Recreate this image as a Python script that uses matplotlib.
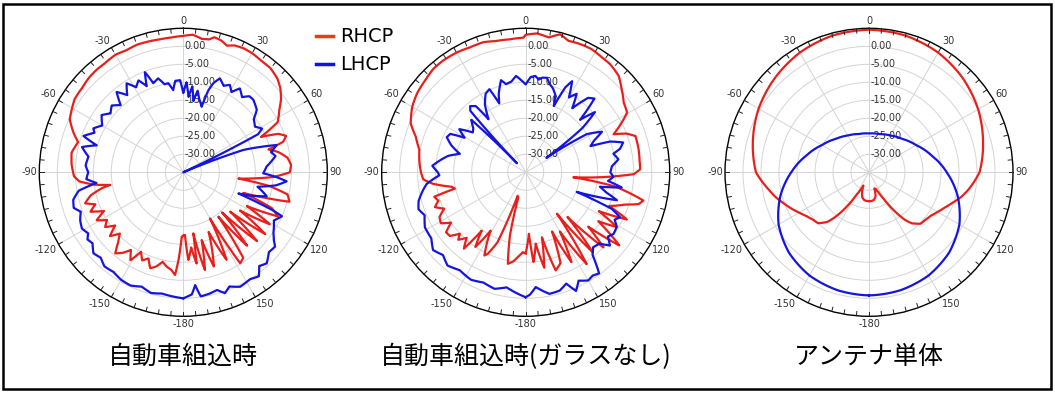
import numpy as np
import matplotlib
matplotlib.use('Agg')
import matplotlib.pyplot as plt
from matplotlib.lines import Line2D
from matplotlib.patches import Rectangle

plt.rcParams['font.family'] = ['DejaVu Sans']

W, H = 1055, 394

titles = ['自動車組込時', '自動車組込時(ガラスなし)', 'アンテナ単体']
series_names = ['RHCP', 'LHCP']
ring_values = [0, -5, -10, -15, -20, -25, -30]
theta_ticks = [0, 30, 60, 90, 120, 150, 180, 210, 240, 270, 300, 330]
theta_labels = ['0', '30', '60', '90', '120', '150', '-180', '-150', '-120', '-90', '-60', '-30']

# panel 1: 自動車組込時
p1_rhcp_deg = [-180, -178.6, -177, -175.4, -173, -170, -167, -164, -161, -158, -155, -152, -149,
               -146, -143, -140, -137, -134, -131, -128, -125, -122, -119, -116, -113, -110,
               -107.5, -104, -101, -99.8, -98, -95, -92, -90, -86, -80, -74, -70, -65, -61,
               -56, -50, -45, -40, -36, -30, -25, -20, -15, -10, -5, 0, 4, 8, 11, 13, 16, 19,
               22, 26, 30, 35, 40, 45, 49, 53, 57, 62, 65.5, 68, 70.5, 73, 75, 78, 82, 86, 90,
               93, 96.5, 99, 102, 105.5, 107, 109, 112, 115, 118, 121, 124, 127, 130, 133, 136,
               139, 141.7, 145, 148, 150, 153.7, 157, 162, 164.8, 167.5, 170.7, 171.7, 174,
               176.7, 178.5, 180]
p1_rhcp_db = [-17.4, -17.1, -11, -6.4, -7.7, -8.4, -9.5, -7.8, -6.8, -9.2, -8.0, -10.0, -6.5,
              -9.0, -7.0, -5.6, -8.5, -10.5, -8.0, -11.0, -8.5, -10.0, -7.5, -10.5, -7.0, -9.0,
              -6.4, -8.5, -12, -14.4, -10.2, -6, -4.6, -4.4, -3.9, -3.5, -4.6, -2.5, -0.2, 0.5,
              1.4, 1.6, 2.1, 2.3, 2.3, 2.7, 2.4, 2.7, 2.6, 2.5, 2.6, 2.9, 3.3, 2.4, 2.6, 3.5,
              3.1, 2.2, 3.0, 3.3, 3.2, 2.8, 2.7, 1.9, 0.7, -1.0, -3.2, -5.3, -11.3, -6.5, -4.7,
              -6, -10.5, -8, -5.8, -5.0, -5.4, -10, -19.6, -11, -5.4, -4.4, -10, -17.4, -8.5,
              -6, -15, -7, -16, -6.5, -18, -7, -19.5, -8, -19.3, -6, -5.2, -20.2, -7.9, -17,
              -7.5, -15.5, -7.2, -17.8, -9.4, -14, -10.6, -17.6, -17.4]
p1_lhcp_deg = [-180, -170, -165, -160, -155, -150, -145, -140, -136, -132, -128, -125, -122.7,
               -119, -115, -111, -108, -104, -100, -97, -94, -90, -86, -80.6, -76, -72.7, -70,
               -66, -64, -60, -55, -51, -47, -43, -39.7, -36, -32.5, -29, -26, -23, -21, -18.6,
               -15, -12, -9.6, -7, -5, -2, 0, 2, 4, 6, 8, 10, 12, 15.6, 17, 18.6, 21.3, 25, 28,
               31, 34, 38, 41, 44, 49.6, 53, 57.5, 61, 63, 65, 67, 69.6, 72, 73.7, 77, 80, 86,
               90.7, 93, 95, 98, 101, 106, 109, 111, 113, 114, 118, 124, 127, 129, 133, 137.5,
               141, 144, 148, 153.6, 158, 161, 164, 168, 172, 174, 176, 180]
p1_lhcp_db = [0.0, -0.8, -0.3, -1.2, -0.3, -0.5, -1.2, -0.9, -2.0, -1.4, -3.0, -2.5, -3.6,
              -2.8, -3.4, -4.5, -3.0, -3.5, -5.5, -10.7, -8, -8.6, -7.8, -8.3, -6, -9.8, -5.5,
              -8, -7.2, -9, -7.3, -9, -7.8, -9.5, -6.0, -8.5, -5.7, -8, -6.6, -9, -5.2, -8.9,
              -8, -10, -9.9, -12, -9.5, -9.4, -13, -10, -14, -11, -15, -12, -14, -16.1, -11.2,
              -8.9, -7, -8.5, -7.5, -9, -6.9, -8.5, -7, -7.0, -8.2, -10.5, -11.4, -10, -11.7,
              -35, -35, -17.2, -12, -8, -10, -9, -11.8, -12.8, -9, -6.2, -9, -14, -10.9, -15,
              -18.6, -8, -5, -6.5, -4.8, -3.5, -2.2, -2.5, -0.7, -1.5, 0.7, 0.0, 0.5, -0.8,
              0.5, -1.0, -0.5, -0.2, -3.5, -1.0, 0.0]

# panel 2: 自動車組込時(ガラスなし)
p2_rhcp_deg = [-180, -178, -175, -172, -169, -166, -163.6, -161, -158, -155, -153.6, -151, -149,
               -146, -143, -141, -138, -135, -133, -130, -127, -124, -121, -117.5, -114, -111,
               -108, -105, -103, -101, -97, -94, -90, -85, -78, -72, -67, -60, -54, -47, -42,
               -37, -30, -24, -18, -13, -7, -1, 0, 4.7, 9.7, 14, 18, 23, 28, 33.6, 38, 44, 49,
               54.6, 59.5, 61.6, 66.6, 69, 71.7, 78.5, 84, 88.5, 91, 94, 96, 99, 103.5, 105.7,
               108, 112, 115, 118, 121, 124, 128, 131, 134, 137, 140, 143, 146.4, 150, 153, 156,
               159, 163, 166, 169, 172, 175, 177, 180]
p2_rhcp_db = [-12.5, -12.8, -11.5, -10, -9.1, -17, -27.8, -28.1, -14, -10, -9.2, -13, -16.1,
              -10, -14.7, -7.7, -10.5, -8.5, -10, -7.5, -7.3, -10, -7.5, -8, -10.2, -8, -9.5,
              -8.7, -14.8, -14, -9, -6.5, -5.9, -5.4, -4.8, -2.9, -0.3, 1.4, 2.3, 2.9, 3.5,
              3.6, 3.4, 3.0, 3.0, 2.4, 2.2, 2.4, 3.2, 3.7, 3.0, 4.5, 3.4, 3.7, 3.8, 3.3, 3.1,
              2.2, 0.3, -1.6, -2.3, -4.1, -8.4, -5, -2.9, -3.0, -3.2, -3.2, -5, -15, -21.7,
              -10, -1.4, -2.4, -6, -10, -4, -12, -5.5, -10.7, -2, -12, -5, -18, -6, -20.6, -4.4,
              -16, -7, -17, -8, -6.5, -16.4, -8, -15, -10, -17.9, -12.5]
p2_lhcp_deg = [-180, -175, -170.6, -165, -159, -153, -146, -140, -135, -130, -125, -118.6,
               -113, -109, -105, -100, -96.7, -92, -90, -86, -82, -78, -74.4, -70, -66, -63,
               -60.5, -57, -53, -50, -46, -44, -42, -40, -37, -35, -31, -27, -23.6, -21, -19,
               -15, -12.6, -9, -5.7, 0, 3, 5.7, 8, 10, 12.7, 15, 18, 21, 23, 25, 27, 30, 33, 36,
               40, 43, 46, 49, 52, 55, 58, 62, 65, 68, 70, 73, 76, 78, 82, 86, 90, 93, 96, 99,
               101, 104, 107, 111, 113, 115.5, 118, 121, 125, 128, 131, 134, 138, 141, 144, 147,
               150, 154, 157, 160, 164, 169, 172, 175, 178, 180]
p2_lhcp_db = [-0.3, -1.5, -2.6, -1.5, -2.2, -1.5, -2.2, -1.2, -2.5, -1.4, -3, -3.1, -4.5, -3.5,
              -4.2, -6, -7.3, -11, -10.6, -9, -11, -13, -16, -13, -11, -11.5, -15.5, -13, -16.6,
              -16, -14, -31.5, -12, -11, -12, -17, -13, -10.5, -9.8, -14.5, -12, -8.5, -9.9,
              -9.5, -8.1, -10.6, -8.5, -8.1, -9, -8.3, -8.1, -9.5, -10.5, -12, -15, -9, -6.6,
              -11, -9, -13, -8, -7, -14, -9.5, -15, -28, -15, -11, -14, -15.6, -10, -6.7, -8,
              -10.1, -9, -11, -11.5, -10.6, -12, -8, -14, -12, -8.5, -19.8, -9, -6, -7, -5.5,
              -5.2, -6, -4, -6.5, -7, -5.5, -0.3, -0.8, -0.3, -1.5, 0.8, -2.1, -0.8, -0.6,
              -1.8, -3, -1, -0.3]

# panel 3: アンテナ単体
p3_rhcp_deg = [-180, -175, -170, -165, -160, -157, -155, -151, -147, -143, -140, -135, -130,
               -125, -120, -115, -110, -105, -100, -90, -75, -60, -45, -30, -15, 0, 15, 30, 45,
               60, 75, 90, 100, 105, 107.5, 110, 115, 120, 125, 130, 135, 140, 143, 147, 151,
               155, 158, 161.6, 163, 165, 170, 175, 180]
p3_rhcp_db = [-27.0, -27.0, -27.2, -27.8, -29.5, -31.0, -30.0, -27.9, -23.6, -19.5, -17, -15,
              -14.6, -13.8, -12.6, -11.2, -9.8, -8.2, -6.8, -3.6, -1.6, 0.4, 2.0, 3.4, 4.3, 4.6,
              4.3, 3.4, 1.9, 0.0, -2.2, -4.3, -7, -8.5, -9.4, -10.3, -11.8, -13, -14, -14.5,
              -14.8, -16.5, -18.5, -22.5, -26.5, -29, -30, -30.3, -29, -28, -27.2, -27.0, -27.0]
p3_lhcp_deg = [-180, -165, -150, -135, -120, -105, -90, -75, -60, -45, -30, -15, 0, 15, 30, 45,
               60, 75, 90, 105, 120, 135, 150, 165, 180]
p3_lhcp_db = [-0.8, -1.1, -1.9, -3.5, -6.0, -9.5, -13.4, -17.0, -19.9, -21.9, -23.2, -24.0,
              -24.2, -24.0, -23.2, -21.9, -19.9, -17.0, -13.4, -9.5, -6.0, -3.5, -1.9, -1.1, -0.8]

panels = [
    (p1_rhcp_deg, p1_rhcp_db, p1_lhcp_deg, p1_lhcp_db),
    (p2_rhcp_deg, p2_rhcp_db, p2_lhcp_deg, p2_lhcp_db),
    (p3_rhcp_deg, p3_rhcp_db, p3_lhcp_deg, p3_lhcp_db),
]
centers_x = [183.3, 525.7, 869]
center_y = 172.3
radius_px = 144

red = '#E8201C'
blue = '#1515E0'
grid_color = '#d4d4d4'
label_color = '#333333'

fig = plt.figure(figsize=(W / 100, H / 100), dpi=100)

for i, (rd, rv, ld, lv) in enumerate(panels):
    cx = centers_x[i]
    ax = fig.add_axes([(cx - radius_px) / W, 1 - (center_y + radius_px) / H,
                       2 * radius_px / W, 2 * radius_px / H], projection='polar')
    ax.set_theta_zero_location('N')
    ax.set_theta_direction(-1)
    ax.set_ylim(-35, 5)
    for deg, db, col in [(rd, rv, red), (ld, lv, blue)]:
        line, = ax.plot(np.radians(deg), np.clip(db, -35, 5), color=col, lw=1.6, zorder=3)
        # let the polar transform bend each segment along the arc
        line.get_path()._interpolation_steps = 20

    ax.set_yticks(ring_values)
    ax.set_yticklabels([])
    for v in ring_values:
        ax.annotate(f'{v:.2f}', (0, v), xytext=(1, 0), textcoords='offset points',
                    ha='left', va='center', fontsize=7, color=label_color, zorder=2)

    ax.set_xticks(np.radians(theta_ticks))
    ax.set_xticklabels([])
    ax.tick_params(axis='x', length=0)
    # angle labels hugging the outer circle
    for t, lab in zip(theta_ticks, theta_labels):
        s, c = np.sin(np.radians(t)), np.cos(np.radians(t))
        ha = 'left' if s > 0.3 else ('right' if s < -0.3 else 'center')
        va = 'bottom' if c > 0.3 else ('top' if c < -0.3 else 'center')
        ax.annotate(lab, (np.radians(t), 5), xytext=(1.6 * s, 1.6 * c),
                    textcoords='offset points', ha=ha, va=va, fontsize=7,
                    color=label_color, annotation_clip=False)
    # small inward ticks every 5 degrees on the outer circle
    for t in range(0, 360, 5):
        ax.plot([np.radians(t)] * 2, [5, 3.8], color='#222222', lw=0.7, clip_on=False,
                zorder=4)

    ax.grid(True, color=grid_color, lw=0.7)
    ax.spines['polar'].set_color('black')
    ax.spines['polar'].set_linewidth(1.0)

    fig.text(cx / W, 1 - 357 / H, titles[i], ha='center', va='center', fontsize=18,
             family=['Noto Sans CJK JP', 'DejaVu Sans'])

# legend
for name, col, y in [(series_names[0], '#F03A10', 36), (series_names[1], '#1010E8', 64)]:
    fig.lines.append(Line2D([316 / W, 333 / W], [1 - y / H, 1 - y / H], color=col, lw=2.5,
                            transform=fig.transFigure))
    fig.text(340 / W, 1 - y / H, name, ha='left', va='center', fontsize=14)

fig.patches.append(Rectangle((3 / W, 5 / H), 1048 / W, 385 / H, transform=fig.transFigure,
                             fill=False, ec='black', lw=1.8))

fig.savefig('out.png', dpi=100)
